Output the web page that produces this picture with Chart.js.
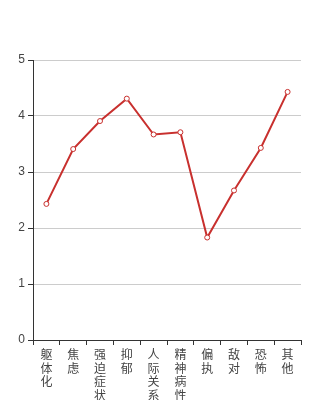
<!DOCTYPE html>
<html>
<head>
<meta charset="utf-8">
<script src="https://cdn.jsdelivr.net/npm/chart.js@4"></script>
<style>
  html, body { margin: 0; padding: 0; background: #fff; overflow: hidden; }
  #wrap { width: 334px; height: 400px; }
</style>
</head>
<body>
<div id="wrap"><canvas id="chart" width="334" height="400"></canvas></div>
<script>
let categories = ['躯体化', '焦虑', '强迫症状', '抑郁', '人际关系', '精神病性', '偏执', '敌对', '恐怖', '其他']
let scores = [2.43, 3.41, 3.91, 4.31, 3.67, 3.71, 1.83, 2.67, 3.43, 4.43]
let yTicks = [0, 1, 2, 3, 4, 5]

// vertical labels: one character per line
let labels = categories.map(c => c.split(''))

let chart = new Chart(
    document.getElementById('chart'),
    {
        type: 'line',
        data: {
            labels: labels,
            datasets: [
                {
                    label: '得分',
                    data: scores,
                    fill: false,
                    borderColor: '#c8302e',
                    borderWidth: 2,
                    tension: 0,
                    pointRadius: 2.5,
                    pointBorderWidth: 1,
                    pointBackgroundColor: '#fff',
                    pointBorderColor: '#c8302e'
                }
            ]
        },
        options: {
            responsive: false,
            animation: false,
            layout: {
                padding: { top: 60, right: 33, left: 0, bottom: 0 }
            },
            plugins: {
                legend: { display: false },
                tooltip: { enabled: false }
            },
            scales: {
                x: {
                    offset: true,
                    border: { color: '#333', width: 1 },
                    grid: {
                        drawOnChartArea: false,
                        drawTicks: true,
                        tickLength: 5,
                        tickColor: '#333',
                        offset: true
                    },
                    ticks: {
                        maxRotation: 0,
                        minRotation: 0,
                        autoSkip: false,
                        padding: 3,
                        color: '#444',
                        font: { family: 'Noto Sans CJK SC', size: 12, lineHeight: 1.12 }
                    },
                    afterFit: scale => { scale.height = 60 }
                },
                y: {
                    min: 0,
                    max: 5,
                    border: { color: '#333', width: 1 },
                    grid: {
                        color: '#cccccc',
                        tickColor: '#333',
                        tickLength: 5
                    },
                    afterBuildTicks: scale => {
                        scale.ticks = yTicks.map(v => ({ value: v }))
                    },
                    ticks: {
                        padding: 3,
                        color: '#444',
                        font: { family: 'Liberation Sans', size: 12 }
                    },
                    afterFit: scale => { scale.width = 33 }
                }
            }
        }
    }
)
</script>
</body>
</html>
